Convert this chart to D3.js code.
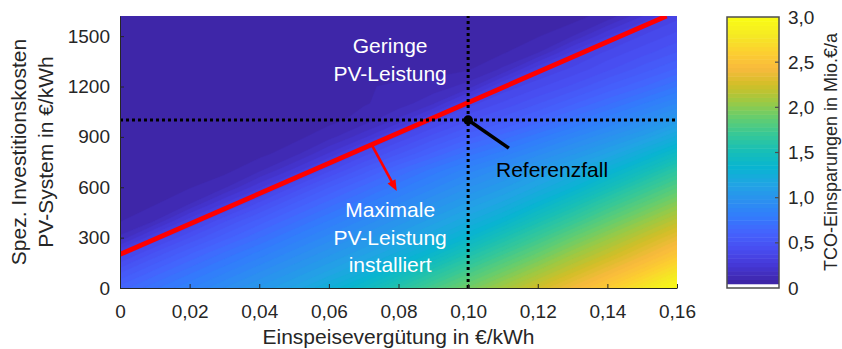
<!DOCTYPE html>
<html>
<head>
<meta charset="utf-8">
<script src="https://cdn.jsdelivr.net/npm/d3@7"></script>
<style>
  body { margin: 0; background: #fff; }
  svg { display: block; }
  text { font-family: "Liberation Sans", Arial, Helvetica, sans-serif; }
</style>
</head>
<body>
<svg id="chart" width="842" height="349"></svg>
<script>
// Sample grid: feed-in tariff (€/kWh) and specific PV investment cost (€/kWh)
const tariffs = [0, 0.01, 0.02, 0.03, 0.04, 0.05, 0.06, 0.07, 0.08, 0.09, 0.10, 0.11, 0.12, 0.13, 0.14, 0.15, 0.16];
const costs = [0, 100, 200, 300, 400, 500, 600, 700, 800, 900, 1000, 1100, 1200, 1300, 1400, 1500, 1600, 1700];

// TCO savings in Mio. €/a, one row per cost value (ascending), one column per tariff
const tcoSavings = [
  [0.63, 0.74, 0.84, 0.94, 1.04, 1.14, 1.27, 1.42, 1.60, 1.77, 1.93, 2.09, 2.25, 2.41, 2.58, 2.78, 2.97],
  [0.50, 0.62, 0.73, 0.83, 0.93, 1.03, 1.13, 1.25, 1.40, 1.58, 1.75, 1.91, 2.07, 2.23, 2.39, 2.56, 2.76],
  [0.35, 0.49, 0.61, 0.72, 0.82, 0.92, 1.02, 1.12, 1.24, 1.38, 1.56, 1.73, 1.89, 2.06, 2.21, 2.37, 2.54],
  [0.15, 0.33, 0.47, 0.59, 0.70, 0.81, 0.91, 1.01, 1.11, 1.22, 1.36, 1.54, 1.71, 1.88, 2.04, 2.20, 2.36],
  [0.09, 0.14, 0.31, 0.46, 0.58, 0.69, 0.80, 0.90, 1.00, 1.10, 1.21, 1.34, 1.52, 1.69, 1.86, 2.02, 2.18],
  [0.07, 0.09, 0.14, 0.29, 0.44, 0.57, 0.68, 0.79, 0.89, 0.99, 1.09, 1.19, 1.33, 1.50, 1.68, 1.84, 2.00],
  [0.07, 0.07, 0.09, 0.13, 0.27, 0.43, 0.56, 0.67, 0.78, 0.88, 0.98, 1.07, 1.18, 1.31, 1.48, 1.66, 1.82],
  [0.07, 0.07, 0.07, 0.08, 0.13, 0.25, 0.41, 0.54, 0.66, 0.77, 0.87, 0.96, 1.06, 1.17, 1.30, 1.46, 1.64],
  [0.07, 0.07, 0.07, 0.07, 0.08, 0.12, 0.24, 0.40, 0.51, 0.62, 0.73, 0.82, 0.92, 1.02, 1.13, 1.27, 1.43],
  [0.07, 0.07, 0.07, 0.07, 0.07, 0.08, 0.12, 0.22, 0.38, 0.49, 0.59, 0.68, 0.78, 0.88, 0.98, 1.09, 1.23],
  [0.07, 0.07, 0.07, 0.07, 0.07, 0.07, 0.08, 0.11, 0.20, 0.36, 0.46, 0.54, 0.63, 0.73, 0.83, 0.93, 1.05],
  [0.07, 0.07, 0.07, 0.07, 0.07, 0.07, 0.08, 0.09, 0.11, 0.18, 0.35, 0.43, 0.51, 0.60, 0.69, 0.79, 0.89],
  [0.07, 0.07, 0.07, 0.07, 0.07, 0.07, 0.07, 0.09, 0.10, 0.11, 0.16, 0.34, 0.41, 0.48, 0.57, 0.65, 0.75],
  [0.07, 0.07, 0.07, 0.07, 0.07, 0.07, 0.07, 0.07, 0.08, 0.08, 0.09, 0.15, 0.32, 0.39, 0.46, 0.54, 0.62],
  [0.07, 0.07, 0.07, 0.07, 0.07, 0.07, 0.07, 0.07, 0.07, 0.07, 0.07, 0.09, 0.14, 0.30, 0.39, 0.45, 0.52],
  [0.07, 0.07, 0.07, 0.07, 0.07, 0.07, 0.07, 0.07, 0.07, 0.07, 0.07, 0.07, 0.09, 0.14, 0.28, 0.38, 0.44],
  [0.07, 0.07, 0.07, 0.07, 0.07, 0.07, 0.07, 0.07, 0.07, 0.07, 0.07, 0.07, 0.07, 0.08, 0.13, 0.26, 0.37],
  [0.07, 0.07, 0.07, 0.07, 0.07, 0.07, 0.07, 0.07, 0.07, 0.07, 0.07, 0.07, 0.07, 0.07, 0.08, 0.12, 0.24]
];

// Break-even line between low and maximum PV capacity
const breakEvenTariff = [0, 0.157];
const breakEvenCost = [200, 1620];

// Reference case
const refTariff = 0.10;
const refCost = 1000;

// Axis ticks
const xTicks = [0, 0.02, 0.04, 0.06, 0.08, 0.10, 0.12, 0.14, 0.16];
const yTicks = [0, 300, 600, 900, 1200, 1500];
const cbTicks = [0, 0.5, 1.0, 1.5, 2.0, 2.5, 3.0];

// Parula-like colour stops
const parulaStops = ["#3e26a8", "#4537d5", "#484df0", "#4563fd", "#327cfc", "#2b91ef", "#20a5e3",
  "#08b5d0", "#18bfb6", "#37c897", "#64cd6f", "#9dc943", "#d1bf27", "#f8ba3d", "#fccf30", "#f5e924", "#f9fb15"];

const svg = d3.select("#chart");
const plot = { left: 120, right: 677, top: 16, bottom: 288 };

const x = d3.scaleLinear().domain([0, 0.16]).range([plot.left, plot.right]);
const y = d3.scaleLinear().domain([0, 1620]).range([plot.bottom, plot.top]);

// colour map: 64 levels over 0..3, lowest level white
const nLevels = 64, cMax = 3;
const parula = d3.scaleLinear()
  .domain(parulaStops.map((_, i) => i / (parulaStops.length - 1)))
  .range(parulaStops)
  .interpolate(d3.interpolateRgb);
const levelColor = k => k === 0 ? "#ffffff" : parula((k - 1) / (nLevels - 2));
const thresholds = d3.range(1, nLevels).map(k => k * cMax / nLevels);

// clip
svg.append("defs").append("clipPath").attr("id", "plotClip")
  .append("rect")
  .attr("x", plot.left).attr("y", plot.top)
  .attr("width", plot.right - plot.left).attr("height", plot.bottom - plot.top);

// filled contours
const nx = tariffs.length, ny = costs.length;
const flat = [];
for (let j = 0; j < ny; j++) for (let i = 0; i < nx; i++) flat.push(tcoSavings[j][i]);

const xIdx = d3.scaleLinear().domain([0, nx - 1]).range([tariffs[0], tariffs[nx - 1]]);
const yIdx = d3.scaleLinear().domain([0, ny - 1]).range([costs[0], costs[ny - 1]]);
const gridProj = d3.geoTransform({
  point(px, py) { this.stream.point(x(xIdx(px - 0.5)), y(yIdx(py - 0.5))); }
});
const gridPath = d3.geoPath(gridProj);

const bands = d3.contours().size([nx, ny]).thresholds(thresholds)(flat);

const gMap = svg.append("g").attr("clip-path", "url(#plotClip)");
gMap.append("rect")
  .attr("x", plot.left).attr("y", plot.top)
  .attr("width", plot.right - plot.left).attr("height", plot.bottom - plot.top)
  .attr("fill", levelColor(0));
gMap.selectAll("path.band")
  .data(bands)
  .join("path")
  .attr("class", "band")
  .attr("d", gridPath)
  .attr("fill", (d, i) => levelColor(i + 1))
  .attr("stroke", (d, i) => levelColor(i + 1))
  .attr("stroke-width", 0.4);

// overlay group (clipped)
const gOver = svg.append("g").attr("clip-path", "url(#plotClip)");

// break-even line
gOver.append("line")
  .attr("x1", x(breakEvenTariff[0])).attr("y1", y(breakEvenCost[0]))
  .attr("x2", x(breakEvenTariff[1])).attr("y2", y(breakEvenCost[1]))
  .attr("stroke", "#ff0000").attr("stroke-width", 4.8);

// dotted reference lines
gOver.append("line")
  .attr("x1", x(refTariff)).attr("x2", x(refTariff))
  .attr("y1", y(0)).attr("y2", y(1620))
  .attr("stroke", "#000").attr("stroke-width", 3).attr("stroke-dasharray", "3 3");
gOver.append("line")
  .attr("x1", x(0)).attr("x2", x(0.16))
  .attr("y1", y(refCost)).attr("y2", y(refCost))
  .attr("stroke", "#000").attr("stroke-width", 3).attr("stroke-dasharray", "3 3");

// arrow helper
function arrow(g, x1, y1, x2, y2, color, width, headLen, headHalf) {
  const dx = x2 - x1, dy = y2 - y1, len = Math.hypot(dx, dy);
  const ux = dx / len, uy = dy / len;
  const bx = x2 - ux * headLen, by = y2 - uy * headLen;
  g.append("line").attr("x1", x1).attr("y1", y1).attr("x2", bx + ux * 1).attr("y2", by + uy * 1)
    .attr("stroke", color).attr("stroke-width", width);
  g.append("path")
    .attr("d", `M${x2},${y2}L${bx - uy * headHalf},${by + ux * headHalf}L${bx + uy * headHalf},${by - ux * headHalf}Z`)
    .attr("fill", color);
}

// arrow into the max-PV region
arrow(gOver, x(0.0724), y(850), x(0.0795), y(578), "#ff0000", 2.6, 11, 4.5);

// reference case pointer
gOver.append("line")
  .attr("x1", x(0.1117)).attr("y1", y(833))
  .attr("x2", x(refTariff)).attr("y2", y(refCost))
  .attr("stroke", "#000").attr("stroke-width", 3.6);
gOver.append("circle")
  .attr("cx", x(refTariff)).attr("cy", y(refCost)).attr("r", 4.8)
  .attr("fill", "#000");

// annotation texts
const tx = x(0.0776);
const ann = svg.append("g").attr("font-size", 21).attr("text-anchor", "middle").attr("fill", "#fff");
[["Geringe", 53], ["PV-Leistung", 81], ["Maximale", 217], ["PV-Leistung", 245], ["installiert", 272]]
  .forEach(([t, yy]) => ann.append("text").attr("x", tx).attr("y", yy).text(t));
svg.append("text").attr("x", 496).attr("y", 177).attr("font-size", 21).attr("fill", "#000")
  .text("Referenzfall");

// axes
const fmtX = d => d === 0 ? "0" : d3.format(".2f")(d).replace(".", ",");
const axisColor = "#262626";

const gx = svg.append("g").attr("transform", `translate(0,${plot.bottom})`)
  .call(d3.axisBottom(x).tickValues(xTicks).tickFormat(fmtX).tickSizeInner(-4).tickSizeOuter(0).tickPadding(17));
const gy = svg.append("g").attr("transform", `translate(${plot.left},0)`)
  .call(d3.axisLeft(y).tickValues(yTicks).tickFormat(d3.format("d")).tickSizeInner(-4).tickSizeOuter(0).tickPadding(10));
[gx, gy].forEach(g => {
  g.attr("font-size", 19).attr("font-family", null);
  g.select(".domain").attr("stroke", axisColor).attr("stroke-width", 1);
  g.selectAll(".tick line").attr("stroke", axisColor).attr("stroke-width", 1);
  g.selectAll(".tick text").attr("fill", axisColor);
});

// axis titles
svg.append("text")
  .attr("x", (plot.left + plot.right) / 2).attr("y", 344)
  .attr("text-anchor", "middle").attr("font-size", 21).attr("fill", "#262626")
  .text("Einspeisevergütung in €/kWh");
[["Spez. Investitionskosten", 19], ["PV-System in €/kWh", 46]].forEach(([t, xx]) => {
  svg.append("text")
    .attr("transform", `translate(${xx},152) rotate(-90)`)
    .attr("dy", "0.35em")
    .attr("text-anchor", "middle").attr("font-size", 21).attr("fill", "#262626")
    .text(t);
});

// colour bar
const cb = { left: 727, right: 779, top: 17, bottom: 288 };
const cbY = d3.scaleLinear().domain([0, cMax]).range([cb.bottom, cb.top]);
const gCb = svg.append("g");
gCb.selectAll("rect.lvl")
  .data(d3.range(nLevels))
  .join("rect")
  .attr("class", "lvl")
  .attr("x", cb.left)
  .attr("width", cb.right - cb.left)
  .attr("y", k => cbY((k + 1) * cMax / nLevels))
  .attr("height", k => cbY(k * cMax / nLevels) - cbY((k + 1) * cMax / nLevels) + 0.5)
  .attr("fill", k => levelColor(k));
gCb.append("rect")
  .attr("x", cb.left).attr("y", cb.top)
  .attr("width", cb.right - cb.left).attr("height", cb.bottom - cb.top)
  .attr("fill", "none").attr("stroke", "#4d4d4d").attr("stroke-width", 1.5);
gCb.selectAll("line.cbt")
  .data(cbTicks.slice(1, -1))
  .join("line")
  .attr("class", "cbt")
  .attr("x1", cb.right).attr("x2", cb.right - 4)
  .attr("y1", d => cbY(d)).attr("y2", d => cbY(d))
  .attr("stroke", "#4d4d4d").attr("stroke-width", 1.2);
gCb.selectAll("text.cbl")
  .data(cbTicks)
  .join("text")
  .attr("class", "cbl")
  .attr("x", 788)
  .attr("y", d => cbY(d))
  .attr("dy", "0.35em")
  .attr("font-size", 19).attr("fill", "#262626")
  .text(d => d === 0 ? "0" : d3.format(".1f")(d).replace(".", ","));
svg.append("text")
  .attr("transform", `translate(831,152) rotate(-90)`)
  .attr("dy", "0.35em")
  .attr("text-anchor", "middle").attr("font-size", 18).attr("fill", "#262626")
  .text("TCO-Einsparungen in Mio.€/a");
</script>
</body>
</html>
